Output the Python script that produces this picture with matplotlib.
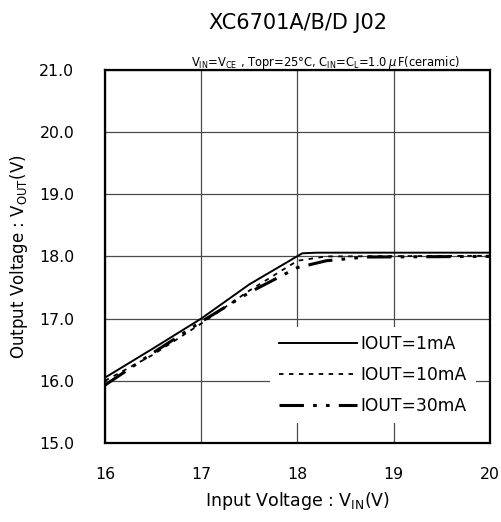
import matplotlib
matplotlib.use("Agg")
import matplotlib.pyplot as plt

plt.rcParams['font.family'] = ['DejaVu Sans']

vin_1 = [16.0, 16.5, 17.0, 17.5, 18.05, 18.2, 20.0]
vout_1 = [16.05, 16.52, 17.0, 17.55, 18.05, 18.06, 18.06]
vin_10 = [16.0, 16.5, 17.0, 17.5, 18.0, 18.3, 20.0]
vout_10 = [16.0, 16.42, 16.92, 17.45, 17.93, 18.0, 18.01]
vin_30 = [16.0, 16.5, 17.0, 17.5, 18.0, 18.3, 18.7, 20.0]
vout_30 = [15.93, 16.45, 16.95, 17.42, 17.82, 17.93, 17.99, 18.0]
labels = ['IOUT=1mA', 'IOUT=10mA', 'IOUT=30mA']
xticks = [16, 17, 18, 19, 20]
yticks = [15.0, 16.0, 17.0, 18.0, 19.0, 20.0, 21.0]

fig = plt.figure(figsize=(5.02, 5.22), dpi=100)
ax = fig.add_axes([0.209, 0.1513, 0.767, 0.715])

ax.plot(vin_1, vout_1, color='black', lw=1.4, ls='-', label=labels[0])
ax.plot(vin_10, vout_10, color='black', lw=1.3, ls=(0, (2.5, 3)), label=labels[1])
ax.plot(vin_30, vout_30, color='black', lw=2.2, ls=(0, (8, 3, 1.2, 3, 1.2, 3)), label=labels[2])

ax.set_xlim(16, 20)
ax.set_ylim(15, 21)
ax.set_xticks(xticks)
ax.set_yticks(yticks)
ax.set_xticklabels([str(v) for v in xticks])
ax.set_yticklabels(['%.1f' % v for v in yticks])
ax.tick_params(length=0, labelsize=11.3, pad=17)
ax.tick_params(axis='y', pad=22)
ax.grid(True, color='#4a4a4a', lw=0.9)
ax.set_axisbelow(True)
for s in ax.spines.values():
    s.set_linewidth(1.6)

leg = ax.legend(loc='lower right', bbox_to_anchor=(0.985, 0.03), frameon=True,
                fontsize=12.3, handlelength=4.6, handletextpad=0.2,
                labelspacing=0.75, borderpad=0.5, fancybox=False)
leg.get_frame().set_edgecolor('none')
leg.get_frame().set_facecolor('white')
leg.get_frame().set_alpha(1)

fig.text(0.594, 0.955, 'XC6701A/B/D J02', ha='center', va='center', fontsize=15)
fig.text(0.649, 0.881,
         r'V$_{\mathrm{IN}}$=V$_{\mathrm{CE}}$ , Topr=25°C, C$_{\mathrm{IN}}$=C$_{\mathrm{L}}$=1.0$\,\mu\,$F(ceramic)',
         ha='center', va='center', fontsize=8.3)
ax.set_xlabel(r'Input Voltage : V$_{\mathrm{IN}}$(V)', fontsize=12.5, labelpad=6)
ax.set_ylabel(r'Output Voltage : V$_{\mathrm{OUT}}$(V)', fontsize=12, labelpad=7)

fig.savefig('out.png', dpi=100)
